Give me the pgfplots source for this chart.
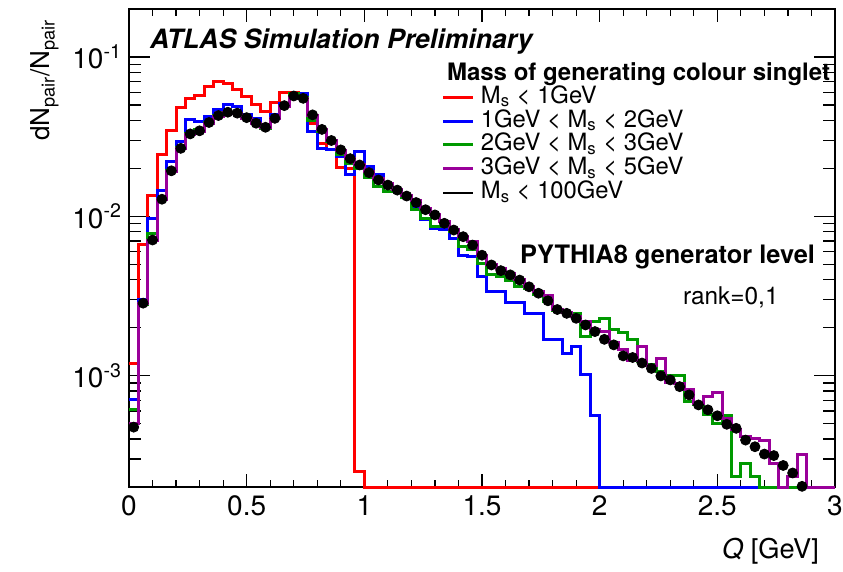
\documentclass[border=0pt]{standalone}
\usepackage{fontspec}
\setmainfont{TeX Gyre Heros}
\usepackage{pgfplots}
\pgfplotsset{compat=1.18}
\usepackage{pgfplotstable}
\definecolor{rootgreen}{RGB}{0,153,0}
\definecolor{rootpurple}{RGB}{153,0,153}

\pgfplotstableread{
x red blue green purple
0.00 1.2e-3 7.1e-4 6.1e-4 5.0e-4
0.04 6.7e-3 3.0e-3 2.8e-3 2.85e-3
0.08 1.36e-2 9.7e-3 7.85e-3 7.1e-3
0.12 2.43e-2 1.46e-2 1.28e-2 1.27e-2
0.16 3.44e-2 2.2e-2 1.95e-2 1.92e-2
0.20 4.81e-2 2.94e-2 2.7e-2 2.65e-2
0.24 5.51e-2 4.03e-2 3.3e-2 3.25e-2
0.28 5.69e-2 3.95e-2 3.5e-2 3.42e-2
0.32 6.52e-2 4.23e-2 3.9e-2 3.85e-2
0.36 7.0e-2 4.66e-2 4.3e-2 4.25e-2
0.40 6.84e-2 5.05e-2 4.5e-2 4.45e-2
0.44 6.28e-2 4.9e-2 4.4e-2 4.42e-2
0.48 5.64e-2 4.33e-2 4.1e-2 4.12e-2
0.52 5.05e-2 4.12e-2 3.8e-2 3.8e-2
0.56 4.54e-2 3.66e-2 3.55e-2 3.6e-2
0.60 5.16e-2 4.33e-2 4.1e-2 4.1e-2
0.64 6.01e-2 5.1e-2 4.9e-2 4.9e-2
0.68 6.0e-2 5.92e-2 5.9e-2 5.6e-2
0.72 5.9e-2 5.9e-2 5.6e-2 5.5e-2
0.76 3.84e-2 3.4e-2 4.0e-2 4.3e-2
0.80 2.88e-2 2.67e-2 3.4e-2 3.5e-2
0.84 2.61e-2 2.61e-2 2.95e-2 3.0e-2
0.88 2.03e-2 2.37e-2 2.45e-2 2.6e-2
0.92 2.0e-2 1.82e-2 2.15e-2 2.3e-2
0.96 2.5e-4 2.55e-2 2.0e-2 2.1e-2
1.00 2e-4 2.05e-2 1.75e-2 1.9e-2
1.04 2e-4 1.84e-2 1.53e-2 1.72e-2
1.08 2e-4 1.61e-2 1.43e-2 1.6e-2
1.12 2e-4 1.46e-2 1.44e-2 1.48e-2
1.16 2e-4 1.33e-2 1.32e-2 1.36e-2
1.20 2e-4 1.12e-2 1.10e-2 1.25e-2
1.24 2e-4 9.48e-3 9.7e-3 1.12e-2
1.28 2e-4 8.41e-3 8.6e-3 1.03e-2
1.32 2e-4 8.3e-3 8.6e-3 9.3e-3
1.36 2e-4 7.28e-3 8.0e-3 8.3e-3
1.40 2e-4 5.71e-3 6.44e-3 7.5e-3
1.44 2e-4 5.57e-3 6.15e-3 6.9e-3
1.48 2e-4 4.18e-3 5.07e-3 5.7e-3
1.52 2e-4 3.37e-3 4.29e-3 5.0e-3
1.56 2e-4 3.37e-3 4.2e-3 4.7e-3
1.60 2e-4 2.87e-3 3.98e-3 4.35e-3
1.64 2e-4 2.87e-3 3.61e-3 4.0e-3
1.68 2e-4 2.46e-3 3.5e-3 3.65e-3
1.72 2e-4 2.46e-3 3.25e-3 3.35e-3
1.76 2e-4 1.69e-3 2.9e-3 3.2e-3
1.80 2e-4 1.69e-3 2.55e-3 2.6e-3
1.84 2e-4 1.38e-3 2.5e-3 2.5e-3
1.88 2e-4 1.52e-3 2.46e-3 2.35e-3
1.92 2e-4 1.01e-3 1.77e-3 2.18e-3
1.96 2e-4 5.6e-4 2.18e-3 1.94e-3
2.00 2e-4 2e-4 2.29e-3 1.89e-3
2.04 2e-4 2e-4 1.94e-3 1.62e-3
2.08 2e-4 2e-4 1.86e-3 1.45e-3
2.12 2e-4 2e-4 1.69e-3 1.25e-3
2.16 2e-4 2e-4 1.22e-3 1.52e-3
2.20 2e-4 2e-4 1.17e-3 1.15e-3
2.24 2e-4 2e-4 1.06e-3 1.28e-3
2.28 2e-4 2e-4 9.96e-4 9.0e-4
2.32 2e-4 2e-4 9.96e-4 8.9e-4
2.36 2e-4 2e-4 6.85e-4 8.2e-4
2.40 2e-4 2e-4 6.6e-4 6.7e-4
2.44 2e-4 2e-4 5.74e-4 7.4e-4
2.48 2e-4 2e-4 5.02e-4 7.85e-4
2.52 2e-4 2e-4 5.59e-4 5.4e-4
2.56 2e-4 2e-4 2.32e-4 4.6e-4
2.60 2e-4 2e-4 2.79e-4 4.15e-4
2.64 2e-4 2e-4 2.32e-4 4.05e-4
2.68 2e-4 2e-4 2e-4 3.94e-4
2.72 2e-4 2e-4 2e-4 2.82e-4
2.76 2e-4 2e-4 2e-4 2e-4
2.80 2e-4 2e-4 2e-4 2.32e-4
2.84 2e-4 2e-4 2e-4 3.18e-4
2.88 2e-4 2e-4 2e-4 2e-4
2.92 2e-4 2e-4 2e-4 2e-4
2.96 2e-4 2e-4 2e-4 2e-4
3.00 2e-4 2e-4 2e-4 2e-4
}\hist

\pgfplotstableread{
x tot
0.02 4.75e-4
0.06 2.85e-3
0.10 7.1e-3
0.14 1.28e-2
0.18 1.93e-2
0.22 2.67e-2
0.26 3.29e-2
0.30 3.44e-2
0.34 3.88e-2
0.38 4.29e-2
0.42 4.5e-2
0.46 4.44e-2
0.50 4.16e-2
0.54 3.84e-2
0.58 3.62e-2
0.62 4.12e-2
0.66 4.95e-2
0.70 5.69e-2
0.74 5.5e-2
0.78 4.33e-2
0.82 3.51e-2
0.86 2.99e-2
0.90 2.61e-2
0.94 2.30e-2
0.98 2.10e-2
1.02 1.88e-2
1.06 1.69e-2
1.10 1.57e-2
1.14 1.46e-2
1.18 1.34e-2
1.22 1.22e-2
1.26 1.10e-2
1.30 1.02e-2
1.34 9.04e-3
1.38 8.2e-3
1.42 7.45e-3
1.46 6.6e-3
1.50 5.7e-3
1.54 4.95e-3
1.58 4.56e-3
1.62 4.29e-3
1.66 3.98e-3
1.70 3.61e-3
1.74 3.29e-3
1.78 2.95e-3
1.82 2.6e-3
1.86 2.46e-3
1.90 2.29e-3
1.94 2.08e-3
1.98 1.89e-3
2.02 1.69e-3
2.06 1.56e-3
2.10 1.33e-3
2.14 1.30e-3
2.18 1.20e-3
2.22 1.11e-3
2.26 9.96e-4
2.30 9.4e-4
2.34 8.53e-4
2.38 7.57e-4
2.42 6.55e-4
2.46 6.1e-4
2.50 5.6e-4
2.54 4.95e-4
2.58 4.67e-4
2.62 3.94e-4
2.66 3.58e-4
2.70 3.22e-4
2.74 3.15e-4
2.78 2.73e-4
2.82 2.45e-4
2.86 2.02e-4
}\tot

\begin{document}
\begin{tikzpicture}
\begin{axis}[
  name=ax,
  scale only axis, width=353pt, height=239pt,
  xmin=0, xmax=3, ymin=2e-4, ymax=0.2, ymode=log,
  clip=false,
  xtick={0,0.5,1,1.5,2,2.5,3},
  xticklabels={0,0.5,1,1.5,2,2.5,3},
  minor xtick={0.1,0.2,0.3,0.4,0.6,0.7,0.8,0.9,1.1,1.2,1.3,1.4,1.6,1.7,1.8,1.9,2.1,2.2,2.3,2.4,2.6,2.7,2.8,2.9},
  ytick={1e-3,1e-2,1e-1},
  yticklabels={10\textsuperscript{-3},10\textsuperscript{-2},10\textsuperscript{-1}},
  minor ytick={3e-4,4e-4,5e-4,6e-4,7e-4,8e-4,9e-4,2e-3,3e-3,4e-3,5e-3,6e-3,7e-3,8e-3,9e-3,2e-2,3e-2,4e-2,5e-2,6e-2,7e-2,8e-2,9e-2},
  tick align=inside,
  xticklabel pos=lower, yticklabel pos=left,
  xtick pos=both, ytick pos=both,
  ticklabel style={font=\fontsize{14}{16}\selectfont},
  xticklabel style={yshift=-1pt},
  axis line style={line width=0.8pt},
  every tick/.style={black, line width=0.6pt},
  xtick style={/pgfplots/major tick length=6.5pt,/pgfplots/minor tick length=3.5pt},
  ytick style={/pgfplots/major tick length=10.5pt,/pgfplots/minor tick length=5.8pt},
  legend style={at={(0.4433,0.8383)}, anchor=north west, draw=none, fill=none,
    inner sep=0pt, outer sep=0pt, row sep=0pt, column sep=3pt,
    font=\fontsize{11.9}{12}\selectfont,
    cells={anchor=base west},
    nodes={inner sep=0pt, text height=8.55pt, text depth=3.35pt}},
  legend image code/.code={\draw[#1] (0pt,3pt) -- (15pt,3pt);},
]
\addplot[red, line width=1.5pt, const plot mark left] table[x=x,y=red]{\hist};
\addlegendentry{M\textsubscript{s} < 1GeV}
\addplot[blue, line width=1.5pt, const plot mark left] table[x=x,y=blue]{\hist};
\addlegendentry{1GeV < M\textsubscript{s} < 2GeV}
\addplot[rootgreen, line width=1.5pt, const plot mark left] table[x=x,y=green]{\hist};
\addlegendentry{2GeV < M\textsubscript{s} < 3GeV}
\addplot[rootpurple, line width=1.5pt, const plot mark left] table[x=x,y=purple]{\hist};
\addlegendentry{3GeV < M\textsubscript{s} < 5GeV}
\addplot[black, only marks, mark=*, mark size=2.5pt,
  legend image code/.code={\draw[black, line width=1pt] (0pt,3pt) -- (15pt,3pt);}]
  table[x=x,y=tot]{\tot};
\addlegendentry{M\textsubscript{s} < 100GeV}
\end{axis}
\node[anchor=base west, font=\fontsize{13.3}{15}\selectfont\bfseries\itshape]
  at ([shift={(7pt,219.5pt)}]ax.south west) {ATLAS Simulation Preliminary};
\node[anchor=base west, font=\fontsize{12}{14}\selectfont\bfseries]
  at ([shift={(155.5pt,203.5pt)}]ax.south west) {Mass of generating colour singlet};
\node[anchor=base east, font=\fontsize{12.7}{14}\selectfont\bfseries]
  at ([shift={(346.5pt,112pt)}]ax.south west) {PYTHIA8 generator level};
\node[anchor=base west, font=\fontsize{12.2}{14}\selectfont]
  at ([shift={(273.5pt,91.35pt)}]ax.south west) {rank=0,1};
\node[anchor=base east, font=\fontsize{13.6}{15}\selectfont]
  at ([shift={(348.5pt,-35.5pt)}]ax.south west) {\textit{Q} [GeV]};
\node[anchor=base east, rotate=90, font=\fontsize{13}{15}\selectfont]
  at ([shift={(-39.5pt,237.5pt)}]ax.south west) {dN\textsubscript{pair}/N\textsubscript{pair}};
\pgfresetboundingbox
\path[use as bounding box] ([shift={(-64.5pt,-42pt)}]ax.south west) rectangle ([shift={(4pt,4.5pt)}]ax.north east);
\end{tikzpicture}
\end{document}
